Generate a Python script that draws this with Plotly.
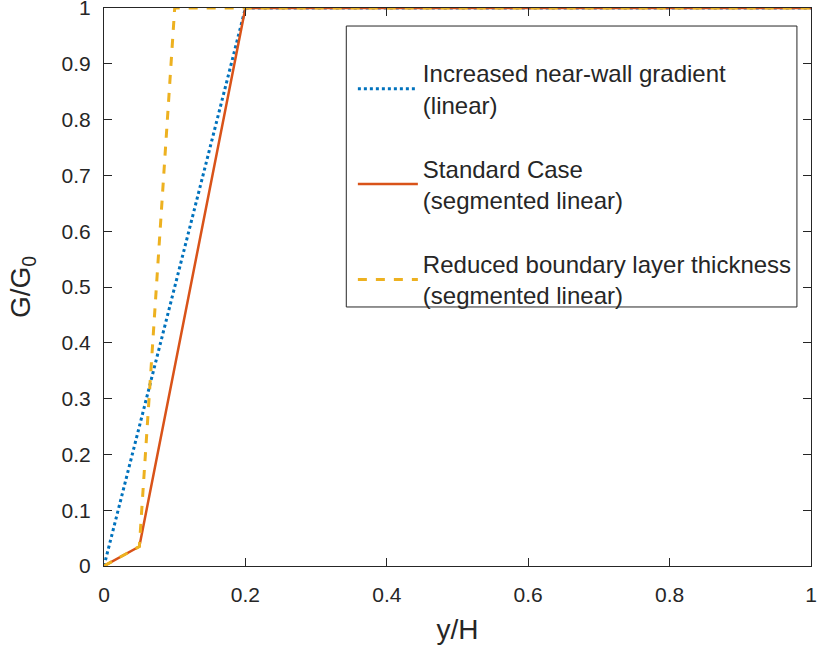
import plotly.graph_objects as go

x_linear = [0, 0.2, 1]
g_linear = [0, 1, 1]
x_standard = [0, 0.05, 0.2, 1]
g_standard = [0, 0.035, 1, 1]
x_reduced = [0, 0.05, 0.1, 1]
g_reduced = [0, 0.035, 1, 1]

names = [
    "Increased near-wall gradient<br>(linear)",
    "Standard Case<br>(segmented linear)",
    "Reduced boundary layer thickness<br>(segmented linear)",
]

tick_vals_x = [0, 0.2, 0.4, 0.6, 0.8, 1]
tick_text_x = ["0", "0.2", "0.4", "0.6", "0.8", "1"]
tick_vals_y = [0, 0.1, 0.2, 0.3, 0.4, 0.5, 0.6, 0.7, 0.8, 0.9, 1]
tick_text_y = ["0", "0.1", "0.2", "0.3", "0.4", "0.5", "0.6", "0.7", "0.8", "0.9", "1"]

fig = go.Figure()
fig.add_trace(go.Scatter(x=x_linear, y=g_linear, mode="lines", name=names[0],
                         legendgroup="a",
                         line=dict(color="#0072BD", width=3, dash="dot")))
fig.add_trace(go.Scatter(x=x_standard, y=g_standard, mode="lines", name=names[1],
                         legendgroup="b",
                         line=dict(color="#D95319", width=2.5)))
fig.add_trace(go.Scatter(x=x_reduced, y=g_reduced, mode="lines", name=names[2],
                         legendgroup="c",
                         line=dict(color="#EDB120", width=3, dash="dash")))

font_family = "Liberation Sans, Arial, sans-serif"
ink = "#262626"
axis_common = dict(
    showgrid=False, zeroline=False, showline=True, linecolor=ink, linewidth=1,
    mirror="ticks", ticks="inside", ticklen=8, tickcolor=ink,
    tickfont=dict(family=font_family, size=21, color=ink),
    ticklabeloverflow="allow", automargin=False,
)
fig.update_xaxes(range=[0, 1], tickvals=tick_vals_x, ticktext=tick_text_x,
                 ticklabelstandoff=10,
                 title=dict(text="y/H", font=dict(family=font_family, size=28, color=ink),
                            standoff=14),
                 **axis_common)
fig.update_yaxes(range=[0, 1], tickvals=tick_vals_y, ticktext=tick_text_y,
                 ticklabelstandoff=8,
                 title=dict(text="G/G<sub>0</sub>", font=dict(family=font_family, size=28, color=ink),
                            standoff=22),
                 **axis_common)

# legend frame
fig.add_shape(type="rect", xref="paper", yref="paper",
              x0=0.3427, x1=0.9801, y0=0.4642, y1=0.9677,
              line=dict(color=ink, width=1), fillcolor="white", layer="above")

fig.update_layout(
    width=817, height=646,
    margin=dict(l=104, r=6, t=8, b=80),
    plot_bgcolor="white", paper_bgcolor="white",
    font=dict(family=font_family, color=ink),
    legend=dict(x=0.352, y=0.923, xanchor="left", yanchor="top",
                borderwidth=0, bgcolor="rgba(0,0,0,0)",
                font=dict(family=font_family, size=24, color=ink),
                traceorder="grouped", tracegroupgap=30,
                itemwidth=60),
)

fig.write_html("out.html")
